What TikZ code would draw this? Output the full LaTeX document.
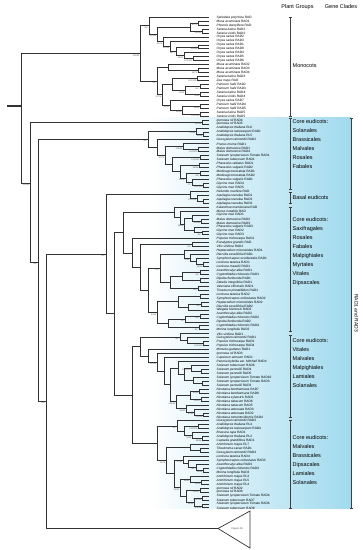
\documentclass[tikz,border=0pt]{standalone}
\usepackage{fontspec}
\setmainfont{Liberation Sans}
\usetikzlibrary{arrows.meta,calc}
\definecolor{shblue}{RGB}{160,218,238}
\definecolor{branch}{RGB}{50,50,50}
% join two children at depth #2
\newcommand{\jn}[5]{%
  \path let \p1=(#3), \p2=(#4) in coordinate (#1) at (#2pt,{(\y1+\y2)/2});
  \draw[br] (#1) |- (#3) (#1) |- (#4);
  \if\relax\detokenize{#5}\relax\else\node[bs] (#1-bs) at (#1) {#5};\fi}

\begin{document}
\begin{tikzpicture}[x=1pt,y=-1pt,
  br/.style={draw=branch,line width=0.95pt},
  bs/.style={anchor=north east,inner sep=0,xshift=-0.5pt,yshift=-0.7pt,
    font=\fontsize{2.2}{2.4}\selectfont,text=black!65},
  leaf/.style={anchor=west,inner sep=0,font=\fontsize{3.2}{3.5}\selectfont},
  grp/.style={draw=black!75,line width=0.5pt,{Bar[width=3pt]}-{Bar[width=3pt]}},
  grplab/.style={anchor=north west,inner sep=0,align=left,font=\fontsize{5.5}{9}\selectfont},
  head/.style={inner sep=0,font=\fontsize{5.5}{6.5}\selectfont}
]
\useasboundingbox (0,0) rectangle (363,550);
\shade[left color=white,right color=shblue] (150,117.5) rectangle (351,508.5);

% leaves
\foreach \sp/\gn [count=\i] in {
  Spirodela polyrhiza/RAD, Musa acuminata/RAD1, Phoenix dactylifera/RAD,
  Setaria italica/RAD2, Setaria viridis/RAD2, Oryza sativa/RAD2, Oryza sativa/RAD3,
  Oryza sativa/RAD1, Oryza sativa/RAD8, Oryza sativa/RAD4, Oryza sativa/RAD5,
  Oryza sativa/RAD6, Musa acuminata/RAD2, Musa acuminata/RAD3, Musa acuminata/RAD4,
  Setaria italica/RAD3, Zea mays/RAD, Panicum hallii/RAD2, Panicum hallii/RAD3,
  Setaria italica/RAD4, Setaria viridis/RAD4, Oryza sativa/RAD7, Panicum hallii/RAD4,
  Panicum hallii/RAD5, Setaria italica/RAD5, Setaria viridis/RAD5,
  Ipomoea nil/RAD4, Ipomoea nil/RAD5, Arabidopsis thaliana/RL6,
  Arabidopsis lasiocarpum/RAD1, Arabidopsis thaliana/RL5, Gossypium raimondii/RAD2,
  Prunus mume/RAD1, Malus domestica/RAD1, Malus domestica/RAD4,
  Solanum lycopersicum/Tomato RAD1, Solanum tuberosum/RAD1, Phaseolus radiatus/RAD1,
  Phaseolus vulgaris/RAD2, Medicago truncatula/RAD1, Medicago truncatula/RAD2,
  Phaseolus vulgaris/RAD1, Glycine max/RAD4, Glycine max/RAD5,
  Nelumbo nucifera/RAD, Aquilegia coerulea/RAD1, Aquilegia coerulea/RAD2,
  Aquilegia coerulea/RAD3, Kalanchoe marnieriana/RAD, Morus notabilis/RAD,
  Glycine max/RAD1, Malus domestica/RAD2, Malus domestica/RAD3, Phaseolus vulgaris/RAD3,
  Glycine max/RAD2, Glycine max/RAD3, Populus trichocarpa/RAD1, Eucalyptus grandis/RAD,
  Vitis vinifera/RAD2, Heptacodium miconioides/RAD1, Diervilla sessilifolia/RAD1,
  Symphoricarpos occidentalis/RAD1, Lonicera tatarica/RAD1, Lonicera maackii/RAD1,
  Acanthocalyx alba/RAD1, Cryptothladia chinensis/RAD1, Dipelta floribunda/RAD1,
  Zabelia integrifolia/RAD1, Valeriana officinalis/RAD1, Triosteum pinnatifidum/RAD1,
  Lonicera tatarica/RAD2, Symphoricarpos orbiculatus/RAD2, Heptacodium miconioides/RAD2,
  Diervilla sessilifolia/RAD2, Weigela hortensis/RAD2, Acanthocalyx alba/RAD2,
  Cryptothladia chinensis/RAD2, Dipelta floribunda/RAD2, Cryptothladia chinensis/RAD4,
  Morina longifolia/RAD2, Vitis vinifera/RAD1, Gossypium raimondii/RAD1,
  Populus trichocarpa/RAD3, Populus trichocarpa/RAD4, Mimulus guttatus/RAD1,
  Ipomoea nil/RAD3, Capsicum annuum/RAD1, Petunia hybrida var. Mitchell/RAD4,
  Solanum tuberosum/RAD6, Solanum pennellii/RAD4, Solanum pennellii/RAD5,
  Solanum lycopersicum/Tomato RAD10, Solanum lycopersicum/Tomato RAD3,
  Solanum pennellii/RAD3, Nicotiana benthamiana/RAD7, Nicotiana benthamiana/RAD8,
  Nicotiana sylvestris/RAD3, Nicotiana tabacum/RAD6, Nicotiana tabacum/RAD5,
  Nicotiana attenuata/RAD3, Nicotiana attenuata/RAD2, Nicotiana tomentosiformis/RAD4,
  Gossypium raimondii/RAD3, Arabidopsis thaliana/RL4, Arabidopsis lasiocarpum/RAD4,
  Brassica rapa/RAD1, Arabidopsis thaliana/RL2, Capsella grandiflora/RAD1,
  Antirrhinum majus/RL7, Theobroma cacao/RAD1, Gossypium raimondii/RAD4,
  Lonicera tatarica/RAD4, Symphoricarpos orbiculatus/RAD3, Acanthocalyx alba/RAD3,
  Cryptothladia chinensis/RAD3, Morina longifolia/RAD3, Antirrhinum majus/RL3,
  Antirrhinum majus/RL5, Antirrhinum majus/RL4, Ipomoea nil/RAD2, Ipomoea nil/RAD6,
  Solanum lycopersicum/Tomato RAD4, Solanum tuberosum/RAD7,
  Solanum lycopersicum/Tomato RAD6, Solanum tuberosum/RAD8}
{
  \coordinate (t\i) at (208.5,{13.34+3.957*\i});
  \node[leaf] (lab\i) at (216.5,{13.34+3.957*\i}) {\textit{\sp} \gn};
}

% monocots
\jn{c2}{198}{t2}{t3}{61/72}
\jn{c4}{202}{t4}{t5}{100/99}
\jn{a3}{190}{c2}{c4}{}
\jn{c8}{198}{t8}{t9}{100/85}
\jn{c11}{193}{t11}{t12}{100/100}
\jn{o4}{184}{t10}{c11}{95/71}
\jn{o3}{176}{c8}{o4}{93/77}
\jn{o2}{170}{t7}{o3}{100/96}
\jn{o1}{163}{t6}{o2}{93/73}
\jn{a2}{157}{a3}{o1}{100/96}
\jn{a1}{149}{t1}{a2}{99/-}
\jn{c14}{198}{t14}{t15}{64/75}
\jn{bm}{168}{t13}{c14}{}
\jn{c16}{197}{t16}{t17}{100/100}
\jn{c18}{200}{t18}{t19}{62/-}
\jn{c20}{200}{t20}{t21}{71/65}
\jn{bg1b}{185}{c18}{c20}{73/63}
\jn{bg1}{172}{c16}{bg1b}{}
\jn{c23}{200}{t23}{t24}{94/85}
\jn{c25}{200}{t25}{t26}{100/100}
\jn{bg2b}{182}{c23}{c25}{62/80}
\jn{bg2}{170}{t22}{bg2b}{93/53}
\jn{bg}{162}{bg1}{bg2}{97/76}
\jn{b0}{157}{bm}{bg}{61/-}
\jn{mono}{140}{a1}{b0}{100/83}

% core eudicots I
\jn{c27}{202}{t27}{t28}{100/99}
\jn{c30}{203}{t30}{t31}{99/99}
\jn{at}{196}{t29}{c30}{97/94}
\jn{c34}{198}{t34}{t35}{100/100}
\jn{ros}{183}{t33}{c34}{100/68}
\jn{c36}{200}{t36}{t37}{100/100}
\jn{c38}{199}{t38}{t39}{98/98}
\jn{c40}{200}{t40}{t41}{93/-}
\jn{c43}{203}{t43}{t44}{100/100}
\jn{fab3}{192}{t42}{c43}{77/-}
\jn{fab2}{186}{c40}{fab3}{100/87}
\jn{fab}{180}{c38}{fab2}{}
\jn{e6}{172}{c36}{fab}{}
\jn{e4}{165}{ros}{e6}{97/72}
\jn{e3}{157}{t32}{e4}{}
\jn{e2}{148}{at}{e3}{64/-}

% basal eudicots
\jn{c47}{203}{t47}{t48}{}
\jn{aq}{197}{t46}{c47}{100/100}
\jn{basal}{190}{t45}{aq}{}

% core eudicots II
\jn{c52}{201}{t52}{t53}{100/89}
\jn{s1a4}{192}{t51}{c52}{}
\jn{c55}{202}{t55}{t56}{99/-}
\jn{s1a5}{194}{t54}{c55}{}
\jn{s1a3}{184}{s1a4}{s1a5}{69/65}
\jn{s1a2}{180}{t50}{s1a3}{}
\jn{s1a}{174}{t49}{s1a2}{}
\jn{c58}{192}{t58}{t59}{99/-}
\jn{c63}{203}{t63}{t64}{98/60}
\jn{da3}{196}{t62}{c63}{}
\jn{da2}{190}{t61}{da3}{71/53}
\jn{da}{184}{t60}{da2}{}
\jn{c65}{200}{t65}{t66}{99/-}
\jn{c67}{200}{t67}{t68}{}
\jn{db1}{182}{c65}{c67}{}
\jn{c69}{198}{t69}{t70}{99/-}
\jn{db}{170}{db1}{c69}{}
\jn{d1}{160}{da}{db}{97/-}
\jn{c71}{200}{t71}{t72}{}
\jn{c73}{201}{t73}{t74}{95/-}
\jn{dc2}{188}{c73}{t75}{}
\jn{dc}{178}{c71}{dc2}{}
\jn{c76}{200}{t76}{t77}{96/-}
\jn{dd1}{185}{c76}{t78}{74/-}
\jn{c79}{199}{t79}{t80}{99/-}
\jn{dd}{168}{dd1}{c79}{}
\jn{d2}{157}{dc}{dd}{97/69}
\jn{dip}{148}{d1}{d2}{}
\jn{s1c}{140}{c58}{dip}{}
\jn{s1b}{132}{t57}{s1c}{}
\jn{s1}{123}{s1a}{s1b}{}

% core eudicots III
\jn{c83}{203}{t83}{t84}{100/100}
\jn{v1b}{187}{t82}{c83}{}
\jn{v1}{180}{t81}{v1b}{64/-}
\jn{c90}{201}{t90}{t91}{}
\jn{sol3}{191}{t89}{c90}{100/100}
\jn{c93}{202}{t93}{t94}{}
\jn{sol4}{193}{t92}{c93}{}
\jn{sol2}{184}{sol3}{sol4}{}
\jn{sol}{178}{t88}{sol2}{}
\jn{c95}{199}{t95}{t96}{96/95}
\jn{c97}{201}{t97}{t98}{100/97}
\jn{nic1}{190}{c95}{c97}{}
\jn{c101}{203}{t101}{t102}{100/95}
\jn{nic3}{194}{t100}{c101}{97/89}
\jn{nic2}{186}{t99}{nic3}{81/62}
\jn{nic}{176}{nic1}{nic2}{100/99}
\jn{v5}{170}{sol}{nic}{}
\jn{v4}{164}{t87}{v5}{}
\jn{v3}{157}{t86}{v4}{100/83}
\jn{v2}{148}{t85}{v3}{}
\jn{v}{140}{v1}{v2}{}

% core eudicots IV
\jn{c104}{198}{t104}{t105}{100/100}
\jn{c107}{202}{t107}{t108}{88/88}
\jn{w1c}{192}{t106}{c107}{73/89}
\jn{w1b}{184}{c104}{w1c}{}
\jn{w1}{177}{t103}{w1b}{94/-}
\jn{c110}{200}{t110}{t111}{}
\jn{w2a}{190}{t109}{c110}{}
\jn{c115}{203}{t115}{t116}{98/99}
\jn{w3c}{196}{t114}{c115}{98/-}
\jn{w3b}{188}{t113}{w3c}{}
\jn{w3}{183}{t112}{w3b}{97/92}
\jn{c118}{201}{t118}{t119}{94/94}
\jn{w4a}{190}{t117}{c118}{98/89}
\jn{c120}{200}{t120}{t121}{100/87}
\jn{c122}{202}{t122}{t123}{100/100}
\jn{c124}{202}{t124}{t125}{100/99}
\jn{w4c}{194}{c122}{c124}{99/95}
\jn{w4b}{186}{c120}{w4c}{}
\jn{w4}{180}{w4a}{w4b}{91/81}
\jn{w2b}{174}{w3}{w4}{}
\jn{w2}{166}{w2a}{w2b}{81/79}
\jn{w}{157}{w1}{w2}{}

% backbone
\jn{s2}{132}{v}{w}{}
\jn{r6}{114}{s1}{s2}{}
\jn{r5}{106}{basal}{r6}{40/-}
\coordinate (tri) at (218,528.5);
\draw[line width=0.7pt,draw=branch] (tri) -- (250,511) -- (250,548) -- cycle;
\node[inner sep=0,font=\fontsize{2.6}{3}\selectfont,text=black!70] (fig2b) at (237,528.5) {Figure 2b};
\coordinate (r4) at (46,401);
\draw[br] (r4) |- (r5) (r4) |- (tri);
\node[bs] (r4-bs) at (r4) {43/-};
\coordinate (r3) at (38,262);
\draw[br] (r3) |- (e2) (r3) |- (r4);
\node[bs] (r3-bs) at (r3) {99/-};
\coordinate (r2) at (30,183);
\draw[br] (r2) |- (c27) (r2) |- (r3);
\node[bs] (r2-bs) at (r2) {100/40};
\coordinate (root) at (21,106);
\draw[br] (root) |- (mono) (root) |- (r2);
\coordinate (base) at (7,106);
\draw[br,line width=1.4pt] (base) -- (root);

% plant groups
\node[head] (hpg) at (297.5,7) {Plant Groups};
\node[head] (hgc) at (341,7) {Gene Clades};
\draw[grp] (290,16.5) -- (290,116.5);
\node[grplab,anchor=west] (g1) at (292.5,66) {Monocots};
\draw[grp] (290,118) -- (290,189.5);
\node[grplab] (g2) at (292.5,119.5) {Core eudicots:\\Solanales\\Brassicales\\Malvales\\Rosales\\Fabales};
\draw[grp] (290,191.5) -- (290,203.5);
\node[grplab,anchor=west] (g3) at (292.5,197.5) {Basal eudicots};
\draw[grp] (290,206.5) -- (290,331.5);
\node[grplab] (g4) at (292.5,217.5) {Core eudicots:\\Saxifragales\\Rosales\\Fabales\\Malpighiales\\Myrtales\\Vitales\\Dipsacales};
\draw[grp] (290,334.5) -- (290,417.5);
\node[grplab] (g5) at (292.5,338.5) {Core eudicots:\\Vitales\\Malvales\\Malpighiales\\Lamiales\\Solanales};
\draw[grp] (290,419.5) -- (290,508.5);
\node[grplab] (g6) at (292.5,435.5) {Core eudicots:\\Malvales\\Brassicales\\Dipsacales\\Lamiales\\Solanales};

% gene clade
\draw[grp] (351,117.5) -- (351,508.5);
\node[head,rotate=-90,font=\fontsize{5}{6}\selectfont] (gc) at (356.5,313) {RAD1 and RAD3};
\end{tikzpicture}
\end{document}
